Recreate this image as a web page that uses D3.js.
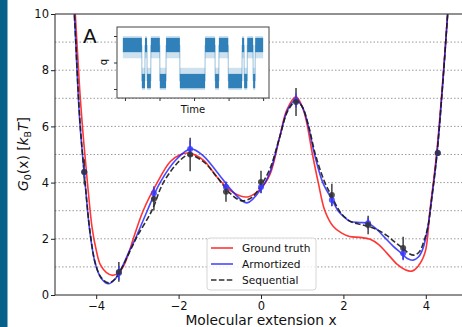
<!DOCTYPE html>
<html>
<head>
<meta charset="utf-8">
<script src="https://cdn.jsdelivr.net/npm/d3@7"></script>
<style>
    body { margin: 0; background: #fff; }
    svg { display: block; font-family: "DejaVu Sans", sans-serif; }
</style>
</head>
<body>
<div id="free-energy"></div>
<script>

// ground truth profile
const truthX = [-4.6, -4.5, -4.4, -4.3, -4.2, -4.1, -4.0, -3.9, -3.75, -3.6, -3.45, -3.34, -3.22, -3.1, -2.86, -2.52, -2.2, -1.95, -1.75, -1.4, -1.07, -0.75, -0.5, -0.3, 0, 0.22, 0.45, 0.63, 0.85, 1.0, 1.1, 1.25, 1.39, 1.55, 1.75, 1.96, 2.15, 2.4, 2.65, 2.85, 3.05, 3.3, 3.5, 3.66, 3.8, 3.98, 4.1, 4.26, 4.4, 4.53, 4.6];
const truthG = [12.2, 9.8, 7.3, 5.4, 3.8, 2.4, 1.6, 1.08, 0.8, 0.7, 0.8, 1.02, 1.45, 2.0, 3.0, 4.0, 4.75, 5.0, 5.05, 4.8, 4.2, 3.72, 3.52, 3.5, 3.8, 4.3, 5.6, 6.6, 7.05, 6.7, 6.2, 5.0, 4.0, 3.0, 2.45, 2.2, 2.08, 2.05, 1.98, 1.8, 1.5, 1.1, 0.9, 0.85, 1.0, 1.5, 3.0, 5.0, 7.4, 10.0, 11.5];

// armortized estimate
const amoX = [-4.62, -4.53, -4.4, -4.27, -4.15, -4.02, -3.88, -3.7, -3.55, -3.37, -3.2, -3.05, -2.76, -2.45, -2.04, -1.7, -1.4, -1.07, -0.68, -0.34, 0.03, 0.22, 0.45, 0.65, 0.85, 1.0, 1.15, 1.3, 1.5, 1.73, 1.87, 2.0, 2.16, 2.4, 2.6, 2.8, 3.0, 3.2, 3.37, 3.55, 3.69, 3.82, 3.93, 4.05, 4.15, 4.27, 4.4, 4.53, 4.62];
const amoG = [12.2, 10.0, 6.2, 4.0, 2.2, 1.1, 0.6, 0.4, 0.55, 1.0, 1.55, 2.0, 3.0, 4.0, 4.85, 5.2, 4.95, 4.38, 3.67, 3.28, 3.84, 4.38, 5.6, 6.6, 6.95, 6.7, 6.0, 5.0, 4.0, 3.38, 3.0, 2.8, 2.62, 2.58, 2.55, 2.35, 2.05, 1.75, 1.53, 1.3, 1.24, 1.35, 1.65, 2.42, 3.5, 5.0, 7.3, 10.0, 12.0];

// sequential estimate
const seqX = [-4.62, -4.53, -4.4, -4.27, -4.15, -4.02, -3.88, -3.7, -3.55, -3.37, -3.2, -3.0, -2.65, -2.37, -1.96, -1.75, -1.4, -1.07, -0.75, -0.46, -0.2, 0.02, 0.22, 0.45, 0.65, 0.85, 1.0, 1.15, 1.32, 1.55, 1.7, 1.9, 2.05, 2.2, 2.45, 2.65, 2.85, 3.05, 3.25, 3.45, 3.6, 3.72, 3.85, 3.95, 4.05, 4.15, 4.27, 4.4, 4.53, 4.62];
const seqG = [12.2, 10.0, 6.3, 4.0, 2.25, 1.12, 0.62, 0.43, 0.56, 0.98, 1.5, 2.1, 3.0, 4.0, 4.8, 4.98, 4.75, 4.2, 3.62, 3.35, 3.5, 3.95, 4.5, 5.6, 6.55, 6.9, 6.7, 6.05, 5.0, 4.0, 3.56, 3.0, 2.75, 2.6, 2.5, 2.42, 2.3, 2.12, 1.88, 1.65, 1.47, 1.42, 1.55, 1.9, 2.42, 3.5, 5.0, 7.3, 10.0, 12.0];

// estimates with error bars
const pointX = [-4.29, -3.45, -2.6, -1.72, -0.85, 0, 0.85, 1.72, 2.6, 3.45, 4.29];
const pointSeqG = [4.38, 0.82, 3.42, 5.0, 3.67, 4.02, 6.87, 3.56, 2.49, 1.67, 5.05];
const pointSeqErr = [0.45, 0.35, 0.4, 0.6, 0.35, 0.4, 0.5, 0.4, 0.33, 0.4, 0.1];
const pointAmoG = [4.38, 0.78, 3.62, 5.2, 3.84, 3.84, 6.92, 3.38, 2.55, 1.49, 5.05];
const pointAmoErr = [0.2, 0.25, 0.25, 0.3, 0.2, 0.2, 0.25, 0.2, 0.2, 0.25, 0.1];

// inset trajectory: dwell segments (time units) and state (1 = high q, 0 = low q)
const dwellStart = [-0.06, 0.49, 0.58, 0.64, 0.75, 1.01, 1.19, 1.59, 2.32, 2.61, 2.72, 2.99, 3.39, 3.45, 3.54, 3.71, 3.77];
const dwellEnd = [0.49, 0.58, 0.64, 0.75, 1.01, 1.19, 1.59, 2.32, 2.61, 2.72, 2.99, 3.39, 3.45, 3.54, 3.71, 3.77, 4.0];
const dwellState = [1, 0, 1, 0, 1, 0, 1, 0, 1, 0, 1, 0, 1, 0, 1, 0, 1];
const stateMean = [-0.7, 0.66];

const xTicks = [-4, -2, 0, 2, 4];
const yTicks = [0, 2, 4, 6, 8, 10];
const gridValues = [1, 2, 3, 4, 5, 6, 7, 8, 9];
const insetTimeTicks = [0, 1, 2, 3, 4];
const insetQTicks = [-1, 0, 1];

const legendLabels = ['Ground truth', 'Armortized', 'Sequential'];

const width = 462;
const height = 327;
const plotLeft = 55, plotRight = 467, plotTop = 14, plotBottom = 295;

const svg = d3.select('#free-energy')
    .append('svg')
    .attr('width', width)
    .attr('height', height);

svg.append('rect')
    .attr('width', width)
    .attr('height', height)
    .attr('fill', '#fff');

// slide accent bar
svg.append('rect')
    .attr('x', 0)
    .attr('y', 0)
    .attr('width', 7.5)
    .attr('height', height)
    .attr('fill', '#07608a');

const xScale = d3.scaleLinear().domain([-5, 5]).range([plotLeft, plotRight]);
const yScale = d3.scaleLinear().domain([0, 10]).range([plotBottom, plotTop]);

svg.append('clipPath')
    .attr('id', 'plot-clip')
    .append('rect')
    .attr('x', plotLeft)
    .attr('y', plotTop)
    .attr('width', plotRight - plotLeft)
    .attr('height', plotBottom - plotTop);

//grid lines
svg.append('g')
    .selectAll('line')
    .data(gridValues)
    .enter()
    .append('line')
    .attr('x1', plotLeft)
    .attr('x2', width)
    .attr('y1', d => yScale(d))
    .attr('y2', d => yScale(d))
    .attr('stroke', '#9a9a9a')
    .attr('stroke-width', 1)
    .attr('stroke-dasharray', '1.5,2');

const line = d3.line()
    .x(d => xScale(d[0]))
    .y(d => yScale(d[1]))
    .curve(d3.curveCatmullRom.alpha(0.5));

const curves = [
    { xs: truthX, gs: truthG, color: '#ff2020', dash: null, opacity: 0.9 },
    { xs: amoX, gs: amoG, color: '#1a1aff', dash: null, opacity: 0.8 },
    { xs: seqX, gs: seqG, color: '#1a1a1a', dash: '5.5,2.4', opacity: 0.9 }
];

const plot = svg.append('g').attr('clip-path', 'url(#plot-clip)');

curves.forEach(c => {
    plot.append('path')
        .datum(c.xs.map((x, i) => [x, c.gs[i]]))
        .attr('d', line)
        .attr('fill', 'none')
        .attr('stroke', c.color)
        .attr('stroke-opacity', c.opacity)
        .attr('stroke-width', 1.6)
        .attr('stroke-dasharray', c.dash);
});

// error bars, sequential (dark) then armortized (blue)
plot.append('g')
    .selectAll('line')
    .data(pointX)
    .enter()
    .append('line')
    .attr('x1', d => xScale(d))
    .attr('x2', d => xScale(d))
    .attr('y1', (d, i) => yScale(pointSeqG[i] - pointSeqErr[i]))
    .attr('y2', (d, i) => yScale(pointSeqG[i] + pointSeqErr[i]))
    .attr('stroke', '#333')
    .attr('stroke-width', 1.4);

plot.append('g')
    .selectAll('line')
    .data(pointX)
    .enter()
    .append('line')
    .attr('x1', d => xScale(d))
    .attr('x2', d => xScale(d))
    .attr('y1', (d, i) => yScale(pointAmoG[i] - pointAmoErr[i]))
    .attr('y2', (d, i) => yScale(pointAmoG[i] + pointAmoErr[i]))
    .attr('stroke', '#3a3aff')
    .attr('stroke-width', 1.4);

plot.append('g')
    .selectAll('circle')
    .data(pointX)
    .enter()
    .append('circle')
    .attr('cx', d => xScale(d))
    .attr('cy', (d, i) => yScale(pointAmoG[i]))
    .attr('r', 3)
    .attr('fill', '#3a3aff')
    .attr('fill-opacity', 0.85);

plot.append('g')
    .selectAll('circle')
    .data(pointX)
    .enter()
    .append('circle')
    .attr('cx', d => xScale(d))
    .attr('cy', (d, i) => yScale(pointSeqG[i]))
    .attr('r', 3)
    .attr('fill', '#333')
    .attr('fill-opacity', 0.85);

//axes
const xAxis = d3.axisBottom(xScale)
    .tickValues(xTicks)
    .tickSize(4)
    .tickSizeOuter(0)
    .tickPadding(3);

const yAxis = d3.axisLeft(yScale)
    .tickValues(yTicks)
    .tickSize(4)
    .tickSizeOuter(0)
    .tickPadding(2);

const gx = svg.append('g')
    .attr('transform', 'translate(0,' + plotBottom + ')')
    .call(xAxis);

const gy = svg.append('g')
    .attr('transform', 'translate(' + plotLeft + ',0)')
    .call(yAxis);

[gx, gy].forEach(g => {
    g.select('.domain').remove();
    g.selectAll('line').attr('stroke', '#222').attr('stroke-width', 1);
    g.selectAll('text')
        .attr('fill', '#111')
        .style('font-size', '11.5px')
        .style('font-family', '"DejaVu Sans", sans-serif');
});

// spines
svg.append('line')
    .attr('x1', plotLeft).attr('x2', plotLeft)
    .attr('y1', plotTop).attr('y2', plotBottom)
    .attr('stroke', '#222').attr('stroke-width', 1);
svg.append('line')
    .attr('x1', plotLeft).attr('x2', width)
    .attr('y1', plotBottom).attr('y2', plotBottom)
    .attr('stroke', '#222').attr('stroke-width', 1);
svg.append('line')
    .attr('x1', plotLeft).attr('x2', width)
    .attr('y1', plotTop).attr('y2', plotTop)
    .attr('stroke', '#222').attr('stroke-width', 1);

svg.append('text')
    .attr('x', 261)
    .attr('y', 325)
    .attr('text-anchor', 'middle')
    .style('font-size', '13.8px')
    .attr('fill', '#111')
    .text('Molecular extension x');

const yLabel = svg.append('text')
    .attr('transform', 'translate(28,154) rotate(-90)')
    .attr('text-anchor', 'middle')
    .style('font-size', '13.8px')
    .attr('fill', '#111');
yLabel.append('tspan').style('font-style', 'italic').text('G');
yLabel.append('tspan').attr('dy', 3).style('font-size', '9.5px').text('0');
yLabel.append('tspan').attr('dy', -3).text('(x) [');
yLabel.append('tspan').style('font-style', 'italic').text('k');
yLabel.append('tspan').attr('dy', 3).style('font-size', '9.5px').text('B');
yLabel.append('tspan').attr('dy', -3).style('font-style', 'italic').text('T');
yLabel.append('tspan').text(']');

//legend
const legend = svg.append('g');
legend.append('rect')
    .attr('x', 207)
    .attr('y', 238)
    .attr('width', 109)
    .attr('height', 52)
    .attr('rx', 3)
    .attr('fill', '#fff')
    .attr('fill-opacity', 0.8)
    .attr('stroke', '#d6d6d6')
    .attr('stroke-width', 1);

const legendRows = legend.selectAll('g.row')
    .data(legendLabels)
    .enter()
    .append('g')
    .attr('transform', (d, i) => 'translate(0,' + (248 + i * 16) + ')');

legendRows.append('line')
    .attr('x1', 211)
    .attr('x2', 233)
    .attr('stroke', (d, i) => curves[i].color)
    .attr('stroke-opacity', (d, i) => curves[i].opacity)
    .attr('stroke-width', 1.6)
    .attr('stroke-dasharray', (d, i) => curves[i].dash);

legendRows.append('text')
    .attr('x', 242)
    .attr('dy', '0.35em')
    .style('font-size', '10.6px')
    .attr('fill', '#111')
    .text(d => d);

svg.append('text')
    .attr('x', 83)
    .attr('y', 43)
    .style('font-size', '20px')
    .attr('fill', '#111')
    .text('A');

// inset with trajectory
const insetL = 117, insetR = 269, insetT = 27, insetB = 98;
const tScale = d3.scaleLinear().domain([-0.23, 4.17]).range([insetL, insetR]);
const qScale = d3.scaleLinear().domain([-1.34, 1.34]).range([insetB, insetT]);

const inset = svg.append('g');
inset.append('rect')
    .attr('x', insetL)
    .attr('y', insetT)
    .attr('width', insetR - insetL)
    .attr('height', insetB - insetT)
    .attr('fill', '#fff');

const dwells = dwellStart.map((s, i) => ({ s: s, e: dwellEnd[i], q: stateMean[dwellState[i]], up: dwellState[i] }));

// sparse scatter, spreading towards the other state
inset.append('g')
    .selectAll('rect')
    .data(dwells)
    .enter()
    .append('rect')
    .attr('x', d => tScale(d.s))
    .attr('width', d => tScale(d.e) - tScale(d.s))
    .attr('y', d => qScale(d.q + (d.up ? 0.34 : 0.5)))
    .attr('height', d => qScale(d.q - (d.up ? 0.5 : 0.34)) - qScale(d.q + (d.up ? 0.34 : 0.5)))
    .attr('fill', '#1f77b4')
    .attr('fill-opacity', 0.22);

// dense core
inset.append('g')
    .selectAll('rect')
    .data(dwells)
    .enter()
    .append('rect')
    .attr('x', d => tScale(d.s))
    .attr('width', d => tScale(d.e) - tScale(d.s))
    .attr('y', d => qScale(d.q + 0.27))
    .attr('height', d => qScale(d.q - 0.27) - qScale(d.q + 0.27))
    .attr('fill', '#1f77b4')
    .attr('fill-opacity', 0.9);

// transitions between states
inset.append('g')
    .selectAll('line')
    .data(dwellStart.slice(1))
    .enter()
    .append('line')
    .attr('x1', d => tScale(d))
    .attr('x2', d => tScale(d))
    .attr('y1', qScale(stateMean[1]))
    .attr('y2', qScale(stateMean[0]))
    .attr('stroke', '#1f77b4')
    .attr('stroke-opacity', 0.45)
    .attr('stroke-width', 1);

inset.append('rect')
    .attr('x', insetL)
    .attr('y', insetT)
    .attr('width', insetR - insetL)
    .attr('height', insetB - insetT)
    .attr('fill', 'none')
    .attr('stroke', '#444')
    .attr('stroke-width', 1);

const tAxis = d3.axisBottom(tScale).tickValues(insetTimeTicks).tickSize(3).tickFormat('');
const qAxis = d3.axisLeft(qScale).tickValues(insetQTicks).tickSize(3).tickFormat('');

inset.append('g')
    .attr('transform', 'translate(0,' + insetB + ')')
    .call(tAxis)
    .call(g => g.select('.domain').remove())
    .selectAll('line').attr('stroke', '#333');

inset.append('g')
    .attr('transform', 'translate(' + insetL + ',0)')
    .call(qAxis)
    .call(g => g.select('.domain').remove())
    .selectAll('line').attr('stroke', '#333');

inset.append('text')
    .attr('x', 193)
    .attr('y', 113)
    .attr('text-anchor', 'middle')
    .style('font-size', '10px')
    .attr('fill', '#111')
    .text('Time');

inset.append('text')
    .attr('transform', 'translate(107,62) rotate(-90)')
    .attr('text-anchor', 'middle')
    .style('font-size', '10px')
    .attr('fill', '#111')
    .text('q');

</script>
</body>
</html>
